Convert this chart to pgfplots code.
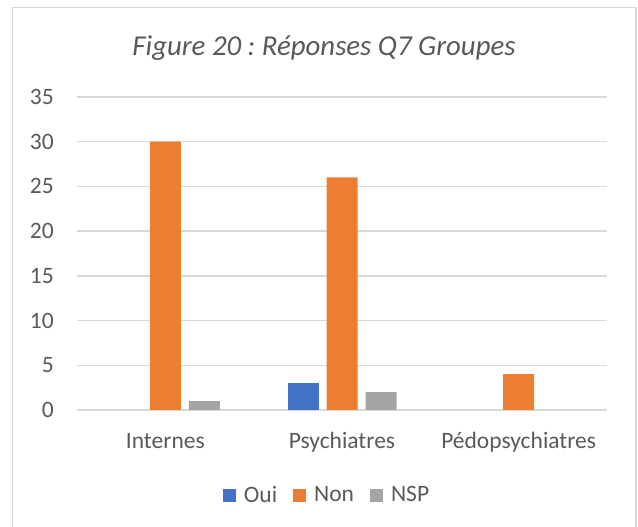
\documentclass[border=0pt]{standalone}
\usepackage{fontspec}
\setmainfont{Carlito}
\usepackage{pgfplots}
\pgfplotsset{compat=1.18}
\definecolor{oui}{HTML}{4472C4}
\definecolor{non}{HTML}{ED7D31}
\definecolor{nsp}{HTML}{A5A5A5}
\definecolor{txt}{HTML}{595959}
\definecolor{grd}{HTML}{D9D9D9}
\frenchspacing

\begin{document}
\begin{tikzpicture}
\useasboundingbox (0bp,0bp) rectangle (638bp,527bp);
\draw[grd, line width=1.5bp] (12.5bp,-5bp) rectangle (636bp,519.5bp);
\node[anchor=base, font=\fontsize{28.8bp}{34bp}\selectfont\itshape, text=txt, inner sep=0pt]
  at (324bp,471bp) {Figure 20 : Réponses Q7 Groupes};
\begin{axis}[
    at={(77bp,117bp)}, anchor=south west,
    scale only axis, width=530bp, height=313bp,
    ybar=8bp, bar width=31bp,
    xmin=-0.5, xmax=2.5, ymin=0, ymax=35,
    xtick={0,1,2},
    xticklabels={Internes,Psychiatres,Pédopsychiatres},
    ytick={0,5,...,35},
    axis line style={draw=none},
    major tick length=0pt,
    ymajorgrids,
    grid style={grd, line width=1.5bp},
    tick label style={font=\fontsize{23.5bp}{28bp}\selectfont, text=txt, inner sep=0pt},
    /pgf/number format/assume math mode=true,
    yticklabel style={anchor=east, xshift=-23bp},
    xticklabel style={anchor=base, yshift=-38bp},
    y filter/.expression={y==0 ? nan : y},
    unbounded coords=discard,
    legend columns=3,
    legend style={at={(0.4717,-0.2716)}, anchor=center, draw=none, fill=none,
        font=\fontsize{23.5bp}{28bp}\selectfont, text=txt,
        /tikz/every even column/.append style={column sep=14bp},
        /tikz/every odd column/.append style={column sep=6bp}},
    legend image code/.code={\fill[#1] (0bp,-6.5bp) rectangle (13bp,6.5bp);},
]
\addplot[fill=oui, draw=none] coordinates {(0,0) (1,3) (2,0)};
\addplot[fill=non, draw=none] coordinates {(0,30) (1,26) (2,4)};
\addplot[fill=nsp, draw=none] coordinates {(0,1) (1,2) (2,0)};
\legend{Oui,Non,NSP}
\end{axis}
\end{tikzpicture}
\end{document}
